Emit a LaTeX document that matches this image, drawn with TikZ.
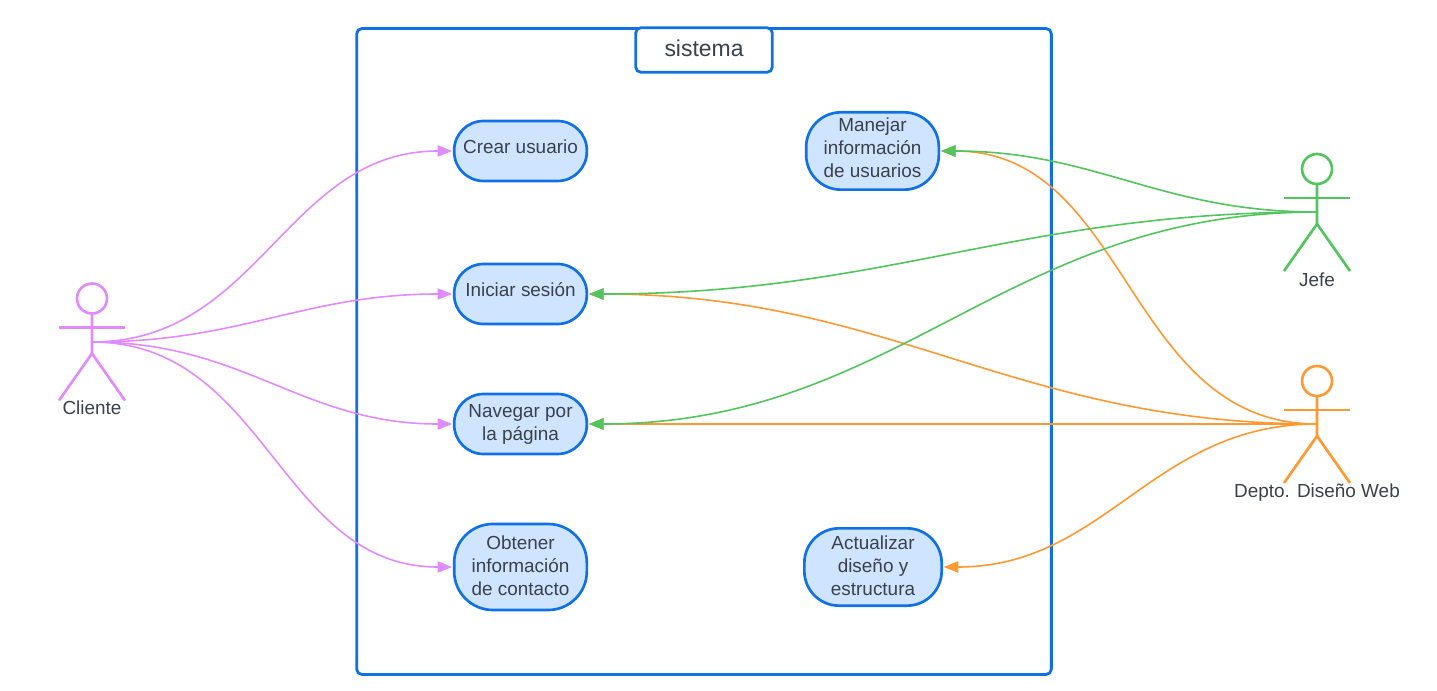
\documentclass[tikz,border=0pt]{standalone}
\usepackage{fontspec}
\setmainfont{Liberation Sans}
\usetikzlibrary{positioning,arrows.meta}
\definecolor{caseblue}{HTML}{1071E5}
\definecolor{casefill}{HTML}{CFE4FF}
\definecolor{clientcol}{HTML}{E08CFF}
\definecolor{bosscol}{HTML}{54C45E}
\definecolor{webcol}{HTML}{FF9933}
\definecolor{textcol}{HTML}{3A414A}
\tikzset{
  usecase/.style={
    draw=caseblue, line width=2pt, fill=casefill, rounded corners=22pt,
    minimum height=45pt, minimum width=99.5pt, inner sep=0pt, outer sep=0pt,
    align=center, text=textcol, font=\fontsize{14.2}{17.25}\selectfont
  },
  head/.style={circle, draw, fill=white, line width=2pt, minimum size=22.5pt, inner sep=0pt, outer sep=0pt},
  limb/.style={line width=2pt},
  actorlabel/.style={text=textcol, font=\fontsize{14.2}{17.25}\selectfont, inner sep=0pt},
  link/.style={line width=1.2pt, shorten >=1.5pt, -{Triangle[length=11pt,width=8.5pt]}, out=0, in=180, looseness=1.05},
  linkback/.style={line width=1.2pt, shorten >=1.5pt, -{Triangle[length=11pt,width=8.5pt]}, out=180, in=0, looseness=1.05}
}
\begin{document}
\begin{tikzpicture}[x=0.75pt,y=-0.75pt]
  \useasboundingbox (0,0) rectangle (1437,691);
  % system frame
  \node[draw=caseblue, line width=2.1pt, rounded corners=4pt, minimum width=521pt, minimum height=484.5pt, inner sep=0pt, outer sep=0pt] (frame) at (704,351.5) {};
  \node[draw=caseblue, fill=white, line width=2.1pt, rounded corners=4pt, minimum width=102.5pt, minimum height=33.5pt, inner sep=0pt, outer sep=0pt,
    text=textcol, text depth=3pt, font=\fontsize{17.2}{20}\selectfont] (title) at (704,50) {sistema};

  % use cases
  \node[usecase, text depth=6pt] (crear) at (520.5,151) {Crear usuario};
  \node[usecase, text depth=6.5pt, below=62.25pt of crear] (iniciar) {Iniciar sesión};
  \node[usecase, below=52.5pt of iniciar] (navegar) {Navegar por\\la página};
  \node[usecase, text depth=2.25pt, below=52.5pt of navegar, minimum height=64.5pt, rounded corners=29pt] (obtener) {Obtener\\información\\de contacto};
  \node[usecase, text depth=4.5pt, minimum height=58pt, rounded corners=26pt] (manejar) at (872.5,151) {Manejar\\información\\de usuarios};
  \node[usecase, text depth=1.5pt, minimum height=58pt, minimum width=103pt, rounded corners=26pt] (actualizar) at (873,567) {Actualizar\\diseño y\\estructura};

  % actors
  \node[head, draw=clientcol] (cliente) at (92,298.5) {};
  \draw[limb, draw=clientcol] (cliente.south) -- ++(0,40) coordinate (clienteHip) -- ++(-33,47);
  \draw[limb, draw=clientcol] (clienteHip) -- ++(33,47);
  \draw[limb, draw=clientcol] (cliente.south) ++(-33,14) -- ++(66,0);
  \coordinate (clienteHand) at (92,342);
  \node[actorlabel] (clienteName) at (92,408) {Cliente};

  \node[head, draw=bosscol] (jefe) at (1317,169) {};
  \draw[limb, draw=bosscol] (jefe.south) -- ++(0,40) coordinate (jefeHip) -- ++(-33,47);
  \draw[limb, draw=bosscol] (jefeHip) -- ++(33,47);
  \draw[limb, draw=bosscol] (jefe.south) ++(-33,14) -- ++(66,0);
  \coordinate (jefeHand) at (1317,212);
  \node[actorlabel] (jefeName) at (1317,280) {Jefe};

  \node[head, draw=webcol] (depto) at (1317,381) {};
  \draw[limb, draw=webcol] (depto.south) -- ++(0,40) coordinate (deptoHip) -- ++(-33,47);
  \draw[limb, draw=webcol] (deptoHip) -- ++(33,47);
  \draw[limb, draw=webcol] (depto.south) ++(-33,14) -- ++(66,0);
  \coordinate (deptoHand) at (1317,424);
  \node[actorlabel] (deptoName) at (1317,492.5) {Depto. Diseño Web};

  % connectors
  \foreach \target in {crear,iniciar,navegar,obtener}
    \draw[link, draw=clientcol] (clienteHand) to (\target.west);
  \foreach \target in {manejar,iniciar,navegar,actualizar}
    \draw[linkback, draw=webcol] (deptoHand) to (\target.east);
  \foreach \target in {manejar,iniciar,navegar}
    \draw[linkback, draw=bosscol] (jefeHand) to (\target.east);
\end{tikzpicture}
\end{document}
